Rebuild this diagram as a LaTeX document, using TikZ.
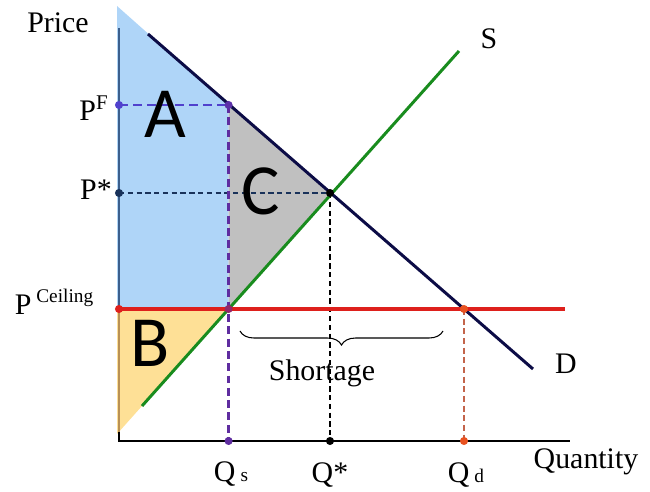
\documentclass[tikz,border=0pt]{standalone}
\usepackage{fontspec}
\setmainfont{Liberation Serif}
\newfontfamily\abcfont{Carlito}
\usepackage{xcolor}
\usetikzlibrary{decorations.pathreplacing}

\definecolor{areablue}{RGB}{175,213,248}
\definecolor{areayellow}{RGB}{254,224,150}
\definecolor{areagray}{RGB}{192,192,192}
\definecolor{axisblue}{RGB}{60,95,140}
\definecolor{axisbrown}{RGB}{185,145,85}
\definecolor{demandnavy}{RGB}{12,12,70}
\definecolor{supplygreen}{RGB}{25,140,30}
\definecolor{ceilred}{RGB}{222,32,28}
\definecolor{pfblue}{RGB}{80,65,205}
\definecolor{qspurple}{RGB}{95,45,160}
\definecolor{qdbrown}{RGB}{195,100,75}
\definecolor{qdorange}{RGB}{232,82,32}
\definecolor{psnavy}{RGB}{25,50,90}

\begin{document}
\begin{tikzpicture}[x=0.02cm,y=-0.02cm,
  lab/.style={font=\fontsize{17}{20}\selectfont,inner sep=0pt},
  big/.style={font=\abcfont\fontsize{41}{41}\selectfont,inner sep=0pt},
  dot/.style={circle,inner sep=0pt,minimum size=4.6pt},
  curve/.style={line width=1.7pt},
  guide/.style={line width=1.1pt,dash pattern=on 3pt off 2pt}]
 \useasboundingbox (0,0) rectangle (650,492);
 % points
 \coordinate (O) at (119,441);
 \coordinate (ytop) at (119,28);
 \coordinate (xend) at (570,441);
 \coordinate (d1) at (148,34);
 \coordinate (d2) at (533,369);
 \coordinate (s1) at (142,406);
 \coordinate (s2) at (459,51);
 \coordinate (E) at (330,193);
 \coordinate (F) at (228.6,105);
 \coordinate (K) at (228.6,309);
 \coordinate (M) at (464,309);
 \coordinate (cl) at (119,309);
 \coordinate (cr) at (565,309);
 \coordinate (yb) at (119,432);
 \coordinate (pf) at (119,105);
 \coordinate (ps) at (119,193);
 \coordinate (qs) at (228.6,441);
 \coordinate (qe) at (330,441);
 \coordinate (qd) at (464,441);
 \coordinate (br1) at (240,331);
 \coordinate (br2) at (443,331);
 % areas
 \fill[areablue] (117,6) -- (F) -- (K) -- (117,309) -- cycle;
 \fill[areayellow] (117,309) -- (K) -- (117,434) -- cycle;
 \fill[areagray] (F) -- (E) -- (K) -- cycle;
 % axes
 \draw[axisblue,line width=0.8pt] (ytop) -- (cl);
 \draw[axisbrown,line width=0.8pt] (cl) -- (yb);
 \draw[line width=0.8pt] (yb) -- (O) -- (xend);
 % guides
 \draw[guide,psnavy] (ps) -- (E);
 \draw[guide,black] (E) -- (qe);
 \draw[guide,qdbrown,dash pattern=on 3.5pt off 2pt] (M) -- (qd);
 \draw[pfblue,line width=1.6pt,dash pattern=on 5pt off 3pt] (pf) -- (F);
 \draw[qspurple,line width=1.6pt,dash pattern=on 4.5pt off 2.5pt] (F) -- (qs);
 % curves
 \draw[curve,supplygreen] (s1) -- (s2);
 \draw[curve,demandnavy] (d1) -- (d2);
 \draw[ceilred,line width=2.2pt] (cl) -- (cr);
 \draw[line width=0.6pt,decorate,decoration={brace,mirror,amplitude=8pt}] (br1) -- (br2);
 % dots
 \node[dot,fill=pfblue] (pfdot) at (pf) {};
 \node[dot,fill=qspurple!80!pfblue] (fdot) at (F) {};
 \node[dot,fill=psnavy] (psdot) at (ps) {};
 \node[dot,fill=black] (edot) at (E) {};
 \node[dot,fill=ceilred] (cldot) at (cl) {};
 \node[dot,fill=qspurple!60!ceilred] (kdot) at (K) {};
 \node[dot,fill=qdorange] (mdot) at (M) {};
 \node[dot,fill=qspurple] (qsdot) at (qs) {};
 \node[dot,fill=black] (qedot) at (qe) {};
 \node[dot,fill=qdorange] (qddot) at (qd) {};
 % labels
 \node[lab] (price) at (58,23) {Price};
 \node[lab] (pflab) at (94,108.5) {P\textsuperscript{F}};
 \node[lab] (pslab) at (96,190) {P*};
 \node[lab] (pclab) at (54,302) {P\,\raisebox{7pt}{\fontsize{11}{11}\selectfont Ceiling}};
 \node[lab] (qslab) at (231,474) {Q\,{\fontsize{11}{11}\selectfont s}};
 \node[lab] (qelab) at (330,475) {Q*};
 \node[lab] (qdlab) at (466,475) {Q\,{\fontsize{11}{11}\selectfont d}};
 \node[lab] (qlab) at (586,462) {Quantity};
 \node[lab] (short) at (322,373.5) {Shortage};
 \node[lab] (slab) at (489,39) {S};
 \node[lab] (dlab) at (566,364) {D};
 \node[big] (a) at (165,114) {A};
 \node[big] (b) at (150,343) {B};
 \node[big] (c) at (261,191) {C};
\end{tikzpicture}
\end{document}
